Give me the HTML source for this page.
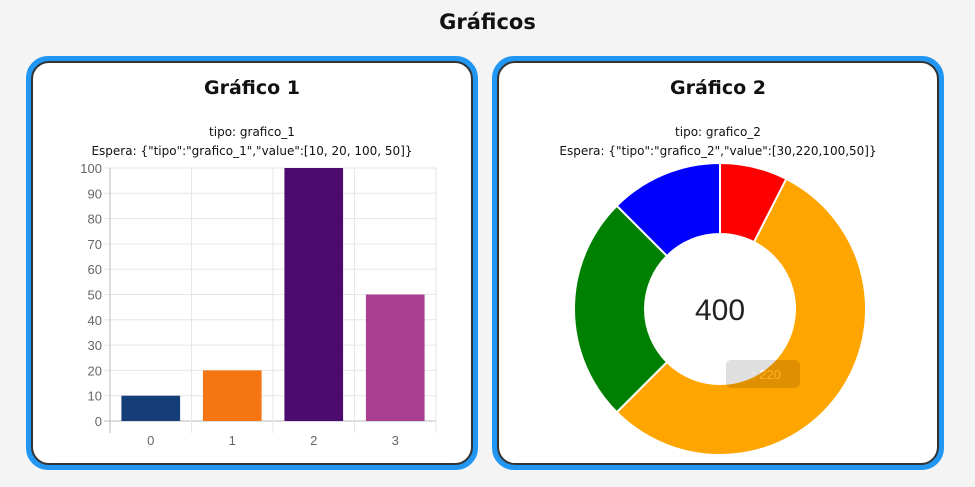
<!DOCTYPE html>
<html><head><meta charset="utf-8"><style>
body{margin:0;width:975px;height:487px;background:#f4f4f4;font-family:"DejaVu Sans","Liberation Sans",sans-serif;overflow:hidden;position:relative}
h1{position:absolute;top:10px;left:0;width:975px;text-align:center;margin:0;font-size:21px;font-weight:bold;color:#111}
.card{position:absolute;top:56px;width:442px;height:404px;border:5px solid #2196f3;border-radius:22px;background:#2196f3}
.inner{position:absolute;left:0;top:0;right:0;bottom:0;border:2px solid #333;border-radius:18px;background:#fff}
.ct{position:absolute;top:14px;width:100%;text-align:center;font-size:19px;font-weight:bold;color:#111}
.sub{position:absolute;top:60px;width:100%;text-align:center;font-size:12px;line-height:19px;color:#111}
svg{position:absolute;left:0;top:0}
</style></head><body>
<h1>Gráficos</h1>
<div class="card" style="left:26px"><div class="inner">
<div class="ct">Gráfico 1</div>
<div class="sub">tipo: grafico_1<br>Espera: {"tipo":"grafico_1","value":[10, 20, 100, 50]}</div>
</div></div>
<div class="card" style="left:492px"><div class="inner">
<div class="ct">Gráfico 2</div>
<div class="sub">tipo: grafico_2<br>Espera: {"tipo":"grafico_2","value":[30,220,100,50]}</div>
</div></div>
<svg id="s" width="975" height="487"></svg>
<script>
const barCategories=["0","1","2","3"];
const barValues=[10,20,100,50];
const barColors=["#153d78","#f57512","#4d0b70","#a83f90"];
const yTicks=[0,10,20,30,40,50,60,70,80,90,100];
const donutValues=[30,220,100,50];
const donutColors=["#ff0000","#ffa500","#008000","#0000ff"];
const ns="http://www.w3.org/2000/svg",s=document.getElementById('s');
function mk(t,a,p){const e=document.createElementNS(ns,t);for(const k in a)e.setAttribute(k,a[k]);(p||s).appendChild(e);return e;}
const X0=110,X1=436,Y0=421,Y1=168,yMax=100;
const y=v=>Y0-(v/yMax)*(Y0-Y1);
const cw=(X1-X0)/barCategories.length;
const x=i=>X0+i*cw;
yTicks.forEach(t=>{
 const g=mk('line',{x1:X0-6,x2:X1,y1:y(t),y2:y(t),stroke:t===0?'#bbb':'#e6e6e6'});
 
 const l=mk('text',{x:X0-8,y:y(t)+5,'text-anchor':'end','font-size':13,fill:'#666','font-family':'Liberation Sans'});
 l.textContent=t;
});
for(let i=0;i<=barCategories.length;i++){
 const g=mk('line',{x1:x(i),x2:x(i),y1:Y1,y2:Y0+12,stroke:i===0?'#bbb':'#e6e6e6'});
 
}
barCategories.forEach((c,i)=>{
 const bw=cw*0.72,bx=x(i)+(cw-bw)/2;
 const r=mk('rect',{x:bx,y:y(barValues[i]),width:bw,height:Y0-y(barValues[i]),fill:barColors[i]});
 
 const t=mk('text',{x:x(i)+cw/2,y:Y0+24,'text-anchor':'middle','font-size':13,fill:'#666','font-family':'Liberation Sans'});
 t.textContent=c;
});
// donut
const cx=720,cy=309,R=146,r0=75;
const total=donutValues.reduce((a,b)=>a+b,0);
let a=-Math.PI/2;
donutValues.forEach((v,i)=>{
 const b=a+v/total*2*Math.PI,L=(b-a)>Math.PI?1:0;
 const p=(rr,t)=>(cx+rr*Math.cos(t))+','+(cy+rr*Math.sin(t));
 const d='M'+p(R,a)+'A'+R+','+R+' 0 '+L+' 1 '+p(R,b)+'L'+p(r0,b)+'A'+r0+','+r0+' 0 '+L+' 0 '+p(r0,a)+'Z';
 const e=mk('path',{d:d,fill:donutColors[i],stroke:'#fff','stroke-width':2});
 
 a=b;
});
const ctr=mk('text',{x:cx,y:cy+11,'text-anchor':'middle','font-size':30,fill:'#222','font-family':'Liberation Sans'});
ctr.textContent=total;
const tg=mk('g',{opacity:0.12});

mk('rect',{x:726,y:360,width:74,height:28,rx:5,fill:'#000'},tg);
const tt=mk('text',{x:752,y:379,'font-size':13,fill:'#fff','font-family':'Liberation Sans'},tg);tt.textContent=': 220';
</script>
</body></html>
